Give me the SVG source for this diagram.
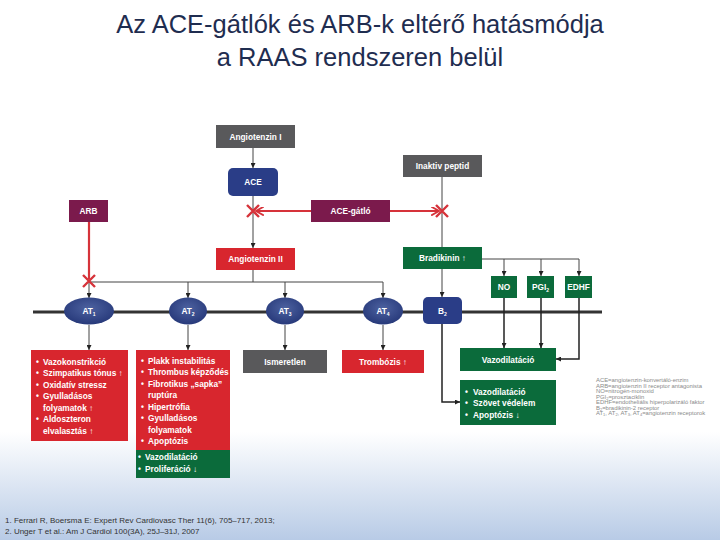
<svg xmlns="http://www.w3.org/2000/svg" width="720" height="540" viewBox="0 0 720 540">
<defs>
<linearGradient id="bg" x1="0" y1="0" x2="0" y2="1">
<stop offset="0" stop-color="#ffffff"/>
<stop offset="0.8" stop-color="#ffffff"/>
<stop offset="1" stop-color="#b8cbe6"/>
</linearGradient>
<radialGradient id="rec" cx="0.5" cy="0.4" r="0.6">
<stop offset="0" stop-color="#4d62a0"/>
<stop offset="1" stop-color="#27397a"/>
</radialGradient>
<marker id="ar" viewBox="0 0 6 6" refX="6" refY="3" markerWidth="5" markerHeight="5" markerUnits="userSpaceOnUse" orient="auto">
<path d="M0,0 L6,3 L0,6 z" fill="#222"/>
</marker>
<marker id="arR" viewBox="0 0 8 8" refX="7" refY="4" markerWidth="9" markerHeight="9" markerUnits="userSpaceOnUse" orient="auto">
<path d="M0,0 L7,4 L0,8" fill="none" stroke="#d6333a" stroke-width="1.6"/>
</marker>
</defs>
<style>
.t{font-family:"Liberation Sans","DejaVu Sans",sans-serif;font-weight:bold;fill:#fff;font-size:8.3px}
.c{text-anchor:middle}
.title{font-family:"Liberation Sans","DejaVu Sans",sans-serif;font-size:25.5px;fill:#1f2d50;text-anchor:middle}
.gray{fill:#59595b}
.blue{fill:#2a3d87}
.purple{fill:#7b1a4c}
.red{fill:#d8262e}
.green{fill:#0b6b3b}
.ln{stroke:#444;stroke-width:1;fill:none}
.lnk{stroke:#222;stroke-width:1.5;fill:none}
.rl{stroke:#d6333a;stroke-width:2.2;fill:none}
.x{stroke:#d6333a;stroke-width:2.4;fill:none}
.leg{font-family:"Liberation Sans","DejaVu Sans",sans-serif;font-size:5.9px;fill:#8a8a8a}
.cit{font-family:"Liberation Sans","DejaVu Sans",sans-serif;font-size:8px;fill:#333}
</style>
<rect x="0" y="0" width="720" height="540" fill="url(#bg)"/>
<text class="title" x="360" y="33">Az ACE-gátlók és ARB-k eltérő hatásmódja</text>
<text class="title" x="360" y="66">a RAAS rendszeren belül</text>

<g id="connectors">
<line class="ln" x1="253" y1="148" x2="253" y2="168" marker-end="url(#ar)"/>
<line class="ln" x1="253" y1="196" x2="253" y2="248" marker-end="url(#ar)"/>
<line class="ln" x1="442" y1="177" x2="442" y2="247"/>
<line class="rl" x1="311" y1="211" x2="256" y2="211" marker-end="url(#arR)"/>
<line class="rl" x1="390" y1="211" x2="439" y2="211" marker-end="url(#arR)"/>
<line class="rl" x1="89" y1="222" x2="89" y2="279"/>
<polyline class="ln" points="253,270 253,282"/>
<line class="ln" x1="89" y1="282" x2="383" y2="282"/>
<line class="ln" x1="89" y1="282" x2="89" y2="298" marker-end="url(#ar)"/>
<line class="ln" x1="188" y1="282" x2="188" y2="298" marker-end="url(#ar)"/>
<line class="ln" x1="285" y1="282" x2="285" y2="298" marker-end="url(#ar)"/>
<line class="ln" x1="383" y1="282" x2="383" y2="298" marker-end="url(#ar)"/>
<line class="ln" x1="442" y1="269" x2="442" y2="297" marker-end="url(#ar)"/>
<line class="ln" x1="482" y1="259" x2="579" y2="259"/>
<line class="ln" x1="504" y1="259" x2="504" y2="276" marker-end="url(#ar)"/>
<line class="ln" x1="541" y1="259" x2="541" y2="276" marker-end="url(#ar)"/>
<line class="ln" x1="579" y1="259" x2="579" y2="276" marker-end="url(#ar)"/>
<line x1="33" y1="312" x2="602" y2="312" stroke="#333" stroke-width="3"/>
<line class="ln" x1="89" y1="325" x2="89" y2="350" marker-end="url(#ar)"/>
<line class="ln" x1="188" y1="325" x2="188" y2="350" marker-end="url(#ar)"/>
<line class="ln" x1="285" y1="325" x2="285" y2="350" marker-end="url(#ar)"/>
<line class="ln" x1="383" y1="325" x2="383" y2="350" marker-end="url(#ar)"/>
<polyline class="lnk" points="442,324 442,402 460,402" marker-end="url(#ar)"/>
<line class="lnk" x1="504" y1="298" x2="504" y2="348" marker-end="url(#ar)"/>
<line class="lnk" x1="541" y1="298" x2="541" y2="348" marker-end="url(#ar)"/>
<polyline class="lnk" points="579,298 579,359 556,359" marker-end="url(#ar)"/>
<path class="x" d="M247,205 L259,217 M259,205 L247,217"/>
<path class="x" d="M436,205 L448,217 M448,205 L436,217"/>
<path class="x" d="M83,275 L95,287 M95,275 L83,287"/>
</g>

<g id="angiotenzin1"><rect class="gray" x="216" y="125" width="79" height="23"/><text class="t c" x="255.5" y="139.5">Angiotenzin I</text></g>
<g id="ace"><rect class="blue" x="228" y="168" width="50" height="28" rx="5"/><text class="t c" x="253" y="185">ACE</text></g>
<g id="arb"><rect class="purple" x="69" y="200" width="39" height="22"/><text class="t c" x="88.5" y="214">ARB</text></g>
<g id="acegatlo"><rect class="purple" x="311" y="200" width="79" height="22"/><text class="t c" x="350.5" y="214">ACE-gátló</text></g>
<g id="angiotenzin2"><rect class="red" x="216" y="248" width="79" height="22"/><text class="t c" x="255.5" y="262">Angiotenzin II</text></g>
<g id="inaktiv"><rect class="gray" x="403" y="155" width="79" height="22"/><text class="t c" x="442.5" y="169">Inaktiv peptid</text></g>
<g id="bradikinin"><rect class="green" x="403" y="247" width="79" height="22"/><text class="t c" x="442.5" y="261">Bradikinin ↑</text></g>
<g id="no"><rect class="green" x="491" y="276" width="26" height="22"/><text class="t c" x="504" y="290">NO</text></g>
<g id="pgi2"><rect class="green" x="527" y="276" width="27" height="22"/><text class="t c" x="540.5" y="290">PGI<tspan font-size="5" dy="2">2</tspan></text></g>
<g id="edhf"><rect class="green" x="565" y="276" width="27" height="22"/><text class="t c" x="578.5" y="290">EDHF</text></g>

<g id="at1"><ellipse fill="url(#rec)" cx="89" cy="311" rx="25" ry="13.5"/><text class="t c" x="89" y="314">AT<tspan font-size="5" dy="2">1</tspan></text></g>
<g id="at2"><ellipse fill="url(#rec)" cx="188" cy="311" rx="19" ry="13.5"/><text class="t c" x="188" y="314">AT<tspan font-size="5" dy="2">2</tspan></text></g>
<g id="at3"><ellipse fill="url(#rec)" cx="285" cy="311" rx="19" ry="13.5"/><text class="t c" x="285" y="314">AT<tspan font-size="5" dy="2">3</tspan></text></g>
<g id="at4"><ellipse fill="url(#rec)" cx="383" cy="311" rx="20" ry="13.5"/><text class="t c" x="383" y="314">AT<tspan font-size="5" dy="2">4</tspan></text></g>
<g id="b2"><rect class="blue" x="423" y="297" width="39" height="27" rx="5"/><text class="t c" x="442.5" y="314">B<tspan font-size="5" dy="2">2</tspan></text></g>

<g id="at1effects">
<rect class="red" x="31" y="350" width="97" height="91"/>
<text class="t"><tspan x="36" y="364.5">•</tspan><tspan x="43" y="364.5">Vazokonstrikció</tspan>
<tspan x="36" y="376">•</tspan><tspan x="43" y="376">Szimpatikus tónus ↑</tspan>
<tspan x="36" y="387.5">•</tspan><tspan x="43" y="387.5">Oxidatív stressz</tspan>
<tspan x="36" y="399">•</tspan><tspan x="43" y="399">Gyulladásos</tspan>
<tspan x="43" y="410.5">folyamatok ↑</tspan>
<tspan x="36" y="422">•</tspan><tspan x="43" y="422">Aldoszteron</tspan>
<tspan x="43" y="433.5">elvalasztás ↑</tspan></text>
</g>
<g id="at2effects">
<rect class="red" x="136" y="350" width="94" height="100"/>
<rect class="green" x="136" y="450" width="94" height="28"/>
<text class="t"><tspan x="141" y="363.5">•</tspan><tspan x="148" y="363.5">Plakk instabilitás</tspan>
<tspan x="141" y="375">•</tspan><tspan x="148" y="375">Thrombus képződés</tspan>
<tspan x="141" y="386.5">•</tspan><tspan x="148" y="386.5">Fibrotikus „sapka”</tspan>
<tspan x="148" y="398">ruptúra</tspan>
<tspan x="141" y="409.5">•</tspan><tspan x="148" y="409.5">Hipertrófia</tspan>
<tspan x="141" y="421">•</tspan><tspan x="148" y="421">Gyulladásos</tspan>
<tspan x="148" y="432.5">folyamatok</tspan>
<tspan x="141" y="444">•</tspan><tspan x="148" y="444">Apoptózis</tspan>
<tspan x="138" y="460">•</tspan><tspan x="145" y="460">Vazodilatáció</tspan>
<tspan x="138" y="471.5">•</tspan><tspan x="145" y="471.5">Proliferáció ↓</tspan></text>
</g>
<g id="ismeretlen"><rect class="gray" x="243" y="350" width="84" height="23"/><text class="t c" x="285" y="364.5">Ismeretlen</text></g>
<g id="trombozis"><rect class="red" x="342" y="350" width="82" height="23"/><text class="t c" x="383" y="364.5">Trombózis ↑</text></g>
<g id="vazodilatacio"><rect class="green" x="460" y="348" width="96" height="23"/><text class="t c" x="508" y="362.5">Vazodilatáció</text></g>
<g id="b2effects">
<rect class="green" x="460" y="380" width="96" height="45"/>
<text class="t"><tspan x="465" y="394.5">•</tspan><tspan x="473" y="394.5">Vazodilatáció</tspan>
<tspan x="465" y="406">•</tspan><tspan x="473" y="406">Szövet védelem</tspan>
<tspan x="465" y="417.5">•</tspan><tspan x="473" y="417.5">Apoptózis ↓</tspan></text>
</g>

<g id="legend">
<text class="leg"><tspan x="596" y="382">ACE=angiotenzin-konvertáló-enzim</tspan>
<tspan x="596" y="387.5">ARB=angiotenzin II receptor antagonista</tspan>
<tspan x="596" y="393">NO=nitrogén-monoxid</tspan>
<tspan x="596" y="398.5">PGI<tspan font-size="4" dy="1">2</tspan><tspan dy="-1">=prosztaciklin</tspan></tspan>
<tspan x="596" y="404">EDHF=endotheliális hiperpolarizáló faktor</tspan>
<tspan x="596" y="409.5">B<tspan font-size="4" dy="1">2</tspan><tspan dy="-1">=bradikinin-2 receptor</tspan></tspan>
<tspan x="596" y="415">AT<tspan font-size="4" dy="1">1</tspan><tspan dy="-1">, AT</tspan><tspan font-size="4" dy="1">2</tspan><tspan dy="-1">, AT</tspan><tspan font-size="4" dy="1">3</tspan><tspan dy="-1">, AT</tspan><tspan font-size="4" dy="1">4</tspan><tspan dy="-1">=angiotenzin receptorok</tspan></tspan></text>
</g>

<text class="cit" x="5" y="523">1. Ferrari R, Boersma E: Expert Rev Cardiovasc Ther 11(6), 705–717, 2013;</text>
<text class="cit" x="5" y="534">2. Unger T et al.: Am J Cardiol 100(3A), 25J–31J, 2007</text>
</svg>
